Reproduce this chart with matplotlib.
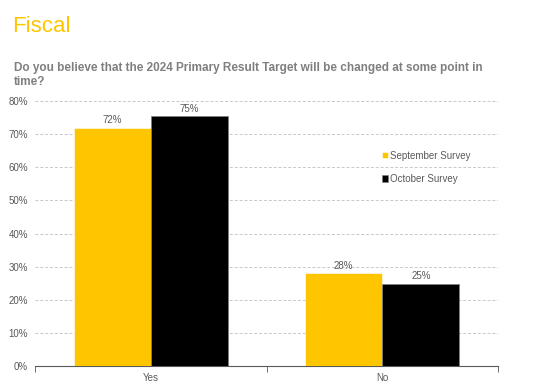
import matplotlib
matplotlib.use("Agg")
import matplotlib.pyplot as plt
from matplotlib.ticker import PercentFormatter
import numpy as np

categories = ["Yes", "No"]
series_names = ["September Survey", "October Survey"]
september = [0.72, 0.28]
october = [0.754, 0.248]
yticks = [0, 0.1, 0.2, 0.3, 0.4, 0.5, 0.6, 0.7, 0.8]

plt.rcParams['font.family'] = ['Liberation Sans', 'DejaVu Sans']
YEL = "#FFC600"
GRAY = "#595959"

fig = plt.figure(figsize=(5.51, 3.85), dpi=100)
ax = fig.add_axes([35/551, 19/385, 463/551, 265/385])

x = np.arange(len(categories))
w = 1/3
b1 = ax.bar(x - w/2, september, w, color=YEL, edgecolor="white", linewidth=0.4, label=series_names[0], zorder=3)
b2 = ax.bar(x + w/2, october, w, color="black", edgecolor="#7f7f7f", linewidth=0.4, label=series_names[1], zorder=3)
for bars, vals in ((b1, september), (b2, october)):
    for r, v in zip(bars, vals):
        ax.text(r.get_x() + r.get_width()/2, v + 0.008, f"{round(v*100):.0f}%",
                ha="center", va="bottom", fontsize=7, color=GRAY)

ax.set_xlim(-0.5, 1.5)
ax.set_ylim(0, 0.8)
ax.set_yticks(yticks)
ax.yaxis.set_major_formatter(PercentFormatter(1.0, decimals=0))
ax.set_xticks(x)
ax.set_xticklabels(categories)
ax.set_xticks([-0.5, 0.5, 1.5], minor=True)
ax.tick_params(axis="x", which="major", length=0, labelsize=7, labelcolor=GRAY, pad=5)
ax.tick_params(axis="x", which="minor", length=4, color=GRAY, direction="out")
ax.tick_params(axis="y", length=0, labelsize=7, labelcolor=GRAY, pad=5)
ax.grid(axis="y", linestyle=(0, (3, 2)), color="#c8c8c8", linewidth=0.7, zorder=0)
for s in ("top", "right", "left"):
    ax.spines[s].set_visible(False)
ax.spines["bottom"].set_color(GRAY)
ax.spines["bottom"].set_linewidth(0.8)

leg = ax.legend(loc="upper left", bbox_to_anchor=(0.73, 0.845), frameon=False, fontsize=7,
                handlelength=0.6, handleheight=0.6, handletextpad=0.2, labelspacing=1.35,
                labelcolor=GRAY)

fig.text(12/551, 1 - 27/385, "Fiscal", fontsize=16, color=YEL, va="center", ha="left")
fig.text(14/551, 1 - 62/385, "Do you believe that the 2024 Primary Result Target will be changed at some point in\ntime?",
         fontsize=8.5, fontweight="bold", color="#7f7f7f", va="top", ha="left", linespacing=1.2)

fig.savefig("out.png", dpi=100)
